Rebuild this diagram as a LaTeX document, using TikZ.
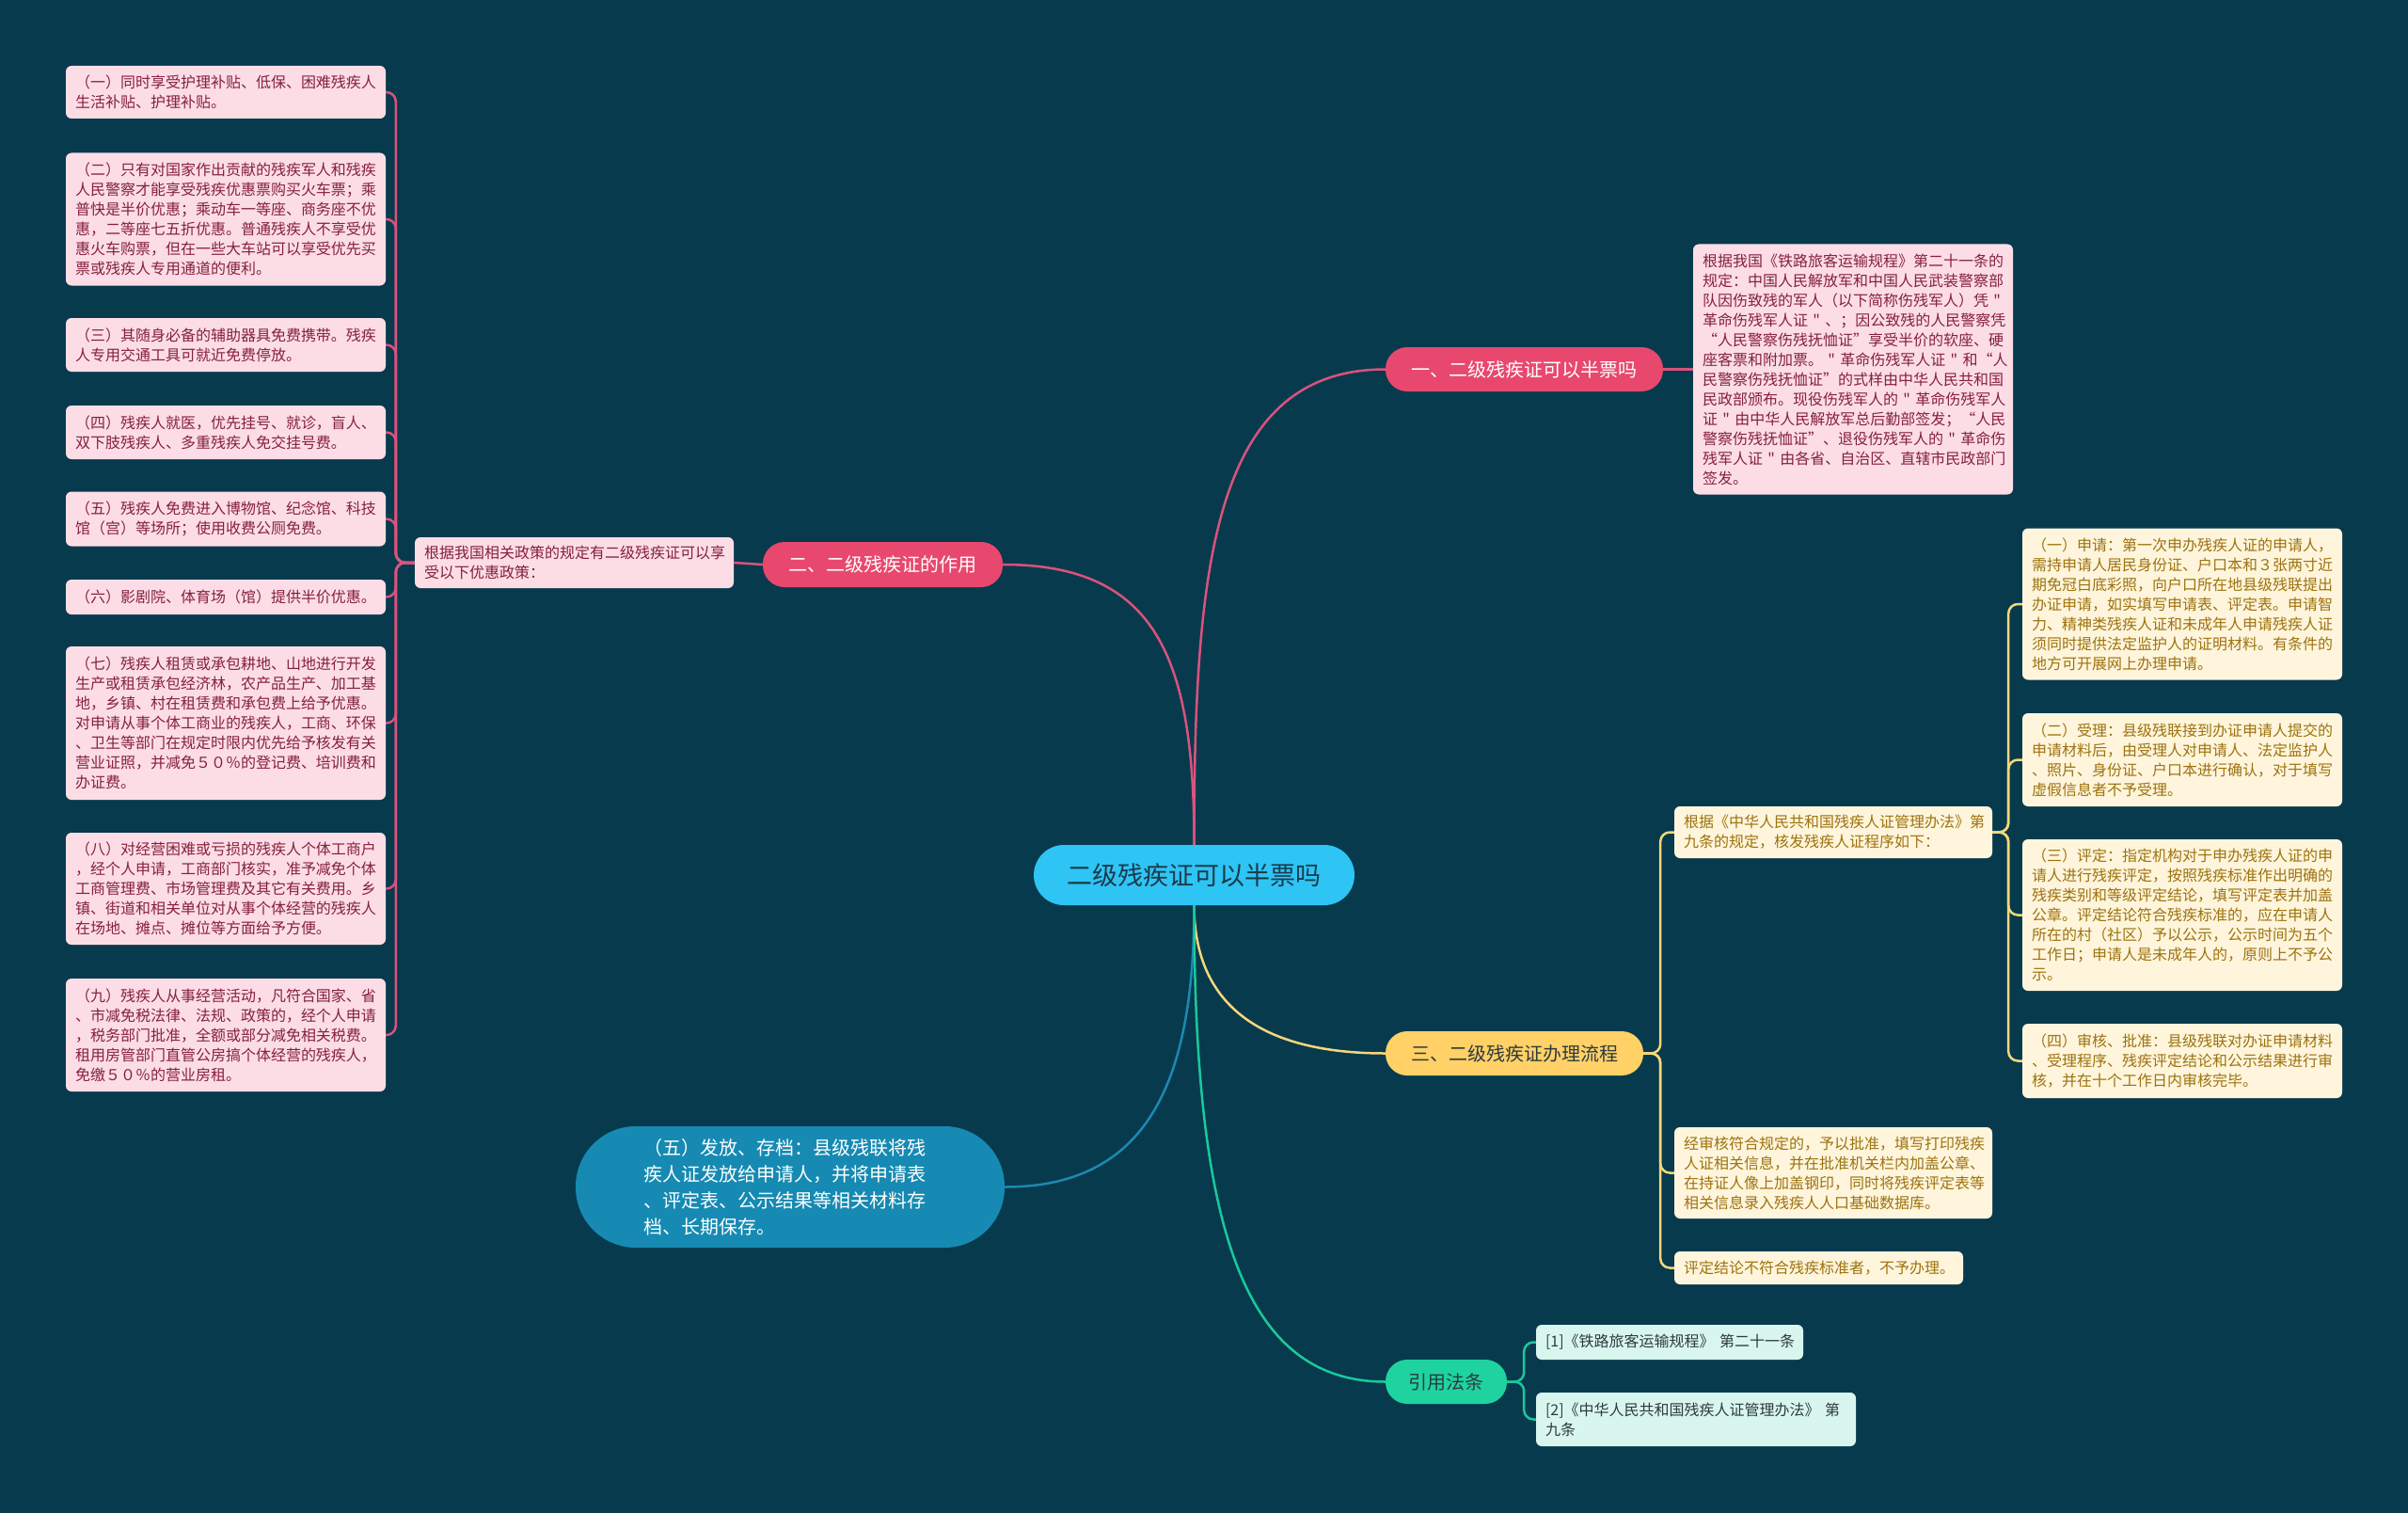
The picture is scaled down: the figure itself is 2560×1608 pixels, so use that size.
\documentclass[tikz,border=0pt]{standalone}
\usepackage{fontspec}
\newfontfamily\cjk{Noto Sans CJK SC}
\definecolor{bgc}{HTML}{083A4E}
\definecolor{pinkmain}{HTML}{E8486E}
\definecolor{pinkline}{HTML}{D9537C}
\definecolor{pinkfill}{HTML}{FCDDE5}
\definecolor{pinktext}{HTML}{86203F}
\definecolor{yelmain}{HTML}{FFD166}
\definecolor{yelline}{HTML}{F5D77A}
\definecolor{yelfill}{HTML}{FEF5DC}
\definecolor{yeltext}{HTML}{9E720E}
\definecolor{bluemain}{HTML}{168AB2}
\definecolor{blueline}{HTML}{1E88B0}
\definecolor{greenmain}{HTML}{1ED39F}
\definecolor{greenline}{HTML}{19C99A}
\definecolor{greenfill}{HTML}{D8F6EE}
\definecolor{darktext}{HTML}{2E3A3F}
\definecolor{centerfill}{HTML}{2EC4F4}
\definecolor{centertext}{HTML}{1B3A4B}
\begin{document}
\begin{tikzpicture}[x=1pt,y=-1pt,
  leafbase/.style={anchor=center, inner xsep=10pt, inner ysep=0pt, rounded corners=6pt, align=left, font=\cjk\fontsize{16}{21}\selectfont},
  pinkleaf/.style={leafbase, fill=pinkfill, text=pinktext},
  yelleaf/.style={leafbase, fill=yelfill, text=yeltext},
  greenleaf/.style={leafbase, fill=greenfill, text=darktext},
  branchbox/.style={anchor=center, inner sep=0pt, rounded corners=23pt, font=\cjk\fontsize{20}{24}\selectfont},
  link/.style={line width=2.5pt},
  bracket/.style={line width=2.5pt, rounded corners=10pt}
]
\fill[bgc] (0,0) rectangle (2560,1608);
\useasboundingbox (0,0) rectangle (2560,1608);

% center
\node[anchor=center, fill=centerfill, text=centertext, rounded corners=32pt, minimum width=341pt, minimum height=64pt, inner sep=0pt, font=\cjk\fontsize{27}{32}\selectfont] (c) at (1269.5,930) {二级残疾证可以半票吗};

% branches
\node[branchbox, fill=pinkmain, text=white, minimum width=295pt, minimum height=47pt] (b1) at (1620.5,392.5) {一、二级残疾证可以半票吗};
\node[branchbox, fill=pinkmain, text=white, minimum width=255pt, minimum height=48pt] (b2) at (938.5,600) {二、二级残疾证的作用};
\node[branchbox, fill=yelmain, text=darktext, minimum width=274pt, minimum height=47pt] (b3) at (1610,1119.5) {三、二级残疾证办理流程};
\node[anchor=center, fill=bluemain, text=white, rounded corners=64pt, minimum width=456pt, minimum height=129pt, inner sep=0pt, text width=312pt, align=left, font=\cjk\fontsize{20}{28}\selectfont] (b4) at (840,1261.5) {（五）发放、存档：县级残联将残\\疾人证发放给申请人，并将申请表\\、评定表、公示结果等相关材料存\\档、长期保存。};
\node[branchbox, fill=greenmain, text=darktext, minimum width=129pt, minimum height=47pt] (b5) at (1537.5,1468.5) {引用法条};

% branch 1 leaf
\node[pinkleaf, text width=320pt, minimum height=266pt] (t1) at (1970,392.5) {根据我国《铁路旅客运输规程》第二十一条的\\规定：中国人民解放军和中国人民武装警察部\\队因伤致残的军人（以下简称伤残军人）凭~"\\革命伤残军人证~"~、；因公致残的人民警察凭\\“人民警察伤残抚恤证”享受半价的软座、硬\\座客票和附加票。~"~革命伤残军人证~"~和“人\\民警察伤残抚恤证”的式样由中华人民共和国\\民政部颁布。现役伤残军人的~"~革命伤残军人\\证~"~由中华人民解放军总后勤部签发；“人民\\警察伤残抚恤证”、退役伤残军人的~"~革命伤\\残军人证~"~由各省、自治区、直辖市民政部门\\签发。};

% branch 2 leaf
\node[pinkleaf, text width=319pt, minimum height=54pt] (lb) at (610.5,598) {根据我国相关政策的规定有二级残疾证可以享\\受以下优惠政策：};

% left column
\node[pinkleaf, text width=320pt, minimum height=56pt] (l1) at (240,98) {（一）同时享受护理补贴、低保、困难残疾人\\生活补贴、护理补贴。};
\node[pinkleaf, text width=320pt, minimum height=141pt] (l2) at (240,233) {（二）只有对国家作出贡献的残疾军人和残疾\\人民警察才能享受残疾优惠票购买火车票；乘\\普快是半价优惠；乘动车一等座、商务座不优\\惠，二等座七五折优惠。普通残疾人不享受优\\惠火车购票，但在一些大车站可以享受优先买\\票或残疾人专用通道的便利。};
\node[pinkleaf, text width=320pt, minimum height=57pt] (l3) at (240,366.5) {（三）其随身必备的辅助器具免费携带。残疾\\人专用交通工具可就近免费停放。};
\node[pinkleaf, text width=320pt, minimum height=57pt] (l4) at (240,459.5) {（四）残疾人就医，优先挂号、就诊，盲人、\\双下肢残疾人、多重残疾人免交挂号费。};
\node[pinkleaf, text width=320pt, minimum height=58pt] (l5) at (240,551.5) {（五）残疾人免费进入博物馆、纪念馆、科技\\馆（宫）等场所；使用收费公厕免费。};
\node[pinkleaf, text width=320pt, minimum height=37pt] (l6) at (240,634.5) {（六）影剧院、体育场（馆）提供半价优惠。};
\node[pinkleaf, text width=320pt, minimum height=163pt] (l7) at (240,768.5) {（七）残疾人租赁或承包耕地、山地进行开发\\生产或租赁承包经济林，农产品生产、加工基\\地，乡镇、村在租赁费和承包费上给予优惠。\\对申请从事个体工商业的残疾人，工商、环保\\、卫生等部门在规定时限内优先给予核发有关\\营业证照，并减免５０％的登记费、培训费和\\办证费。};
\node[pinkleaf, text width=320pt, minimum height=119pt] (l8) at (240,944.5) {（八）对经营困难或亏损的残疾人个体工商户\\，经个人申请，工商部门核实，准予减免个体\\工商管理费、市场管理费及其它有关费用。乡\\镇、街道和相关单位对从事个体经营的残疾人\\在场地、摊点、摊位等方面给予方便。};
\node[pinkleaf, text width=320pt, minimum height=120pt] (l9) at (240,1100) {（九）残疾人从事经营活动，凡符合国家、省\\、市减免税法律、法规、政策的，经个人申请\\，税务部门批准，全额或部分减免相关税费。\\租用房管部门直管公房搞个体经营的残疾人，\\免缴５０％的营业房租。};

% branch 3 leaves
\node[yelleaf, text width=318pt, minimum height=55pt] (ya) at (1949,884.5) {根据《中华人民共和国残疾人证管理办法》第\\九条的规定，核发残疾人证程序如下：};
\node[yelleaf, text width=318pt, minimum height=97pt] (yb) at (1949,1246.5) {经审核符合规定的，予以批准，填写打印残疾\\人证相关信息，并在批准机关栏内加盖公章、\\在持证人像上加盖钢印，同时将残疾评定表等\\相关信息录入残疾人人口基础数据库。};
\node[yelleaf, text width=287pt, minimum height=35pt] (yc) at (1933.5,1347.5) {评定结论不符合残疾标准者，不予办理。};

% steps
\node[yelleaf, text width=320pt, minimum height=161pt] (s1) at (2320,642) {（一）申请：第一次申办残疾人证的申请人，\\需持申请人居民身份证、户口本和３张两寸近\\期免冠白底彩照，向户口所在地县级残联提出\\办证申请，如实填写申请表、评定表。申请智\\力、精神类残疾人证和未成年人申请残疾人证\\须同时提供法定监护人的证明材料。有条件的\\地方可开展网上办理申请。};
\node[yelleaf, text width=320pt, minimum height=99pt] (s2) at (2320,807.5) {（二）受理：县级残联接到办证申请人提交的\\申请材料后，由受理人对申请人、法定监护人\\、照片、身份证、户口本进行确认，对于填写\\虚假信息者不予受理。};
\node[yelleaf, text width=320pt, minimum height=161pt] (s3) at (2320,972.5) {（三）评定：指定机构对于申办残疾人证的申\\请人进行残疾评定，按照残疾标准作出明确的\\残疾类别和等级评定结论，填写评定表并加盖\\公章。评定结论符合残疾标准的，应在申请人\\所在的村（社区）予以公示，公示时间为五个\\工作日；申请人是未成年人的，原则上不予公\\示。};
\node[yelleaf, text width=320pt, minimum height=79pt] (s4) at (2320,1127.5) {（四）审核、批准：县级残联对办证申请材料\\、受理程序、残疾评定结论和公示结果进行审\\核，并在十个工作日内审核完毕。};

% references
\node[greenleaf, text width=264pt, minimum height=37pt] (r1) at (1775,1426.5) {[1]《铁路旅客运输规程》~第二十一条};
\node[greenleaf, text width=320pt, minimum height=57pt] (r2) at (1803,1508.5) {[2]《中华人民共和国残疾人证管理办法》~第\\九条};

% main connectors
\draw[link, pinkline] (c.north) .. controls (1269.5,600) and (1290,392.5) .. (b1.west);
\draw[link, pinkline] (c.north) .. controls (1269.5,700) and (1230,600) .. (b2.east);
\draw[link, yelline] (c.south) .. controls (1269.5,1060) and (1330,1119.5) .. (b3.west);
\draw[link, blueline] (c.south) .. controls (1269.5,1150) and (1220,1261.5) .. (b4.east);
\draw[link, greenline] (c.south) .. controls (1269.5,1300) and (1320,1468.5) .. (b5.west);

% leaf connectors
\draw[link, pinkline] (b1.east) -- (t1.west);
\draw[link, pinkline] (b2.west) -- (lb.east);
\foreach \n in {l1,l2,l3,l4,l5,l6,l7,l8,l9}
  \draw[bracket, pinkline] (lb.west) -- ++(-20,0) |- (\n.east);
\foreach \n in {ya,yb,yc}
  \draw[bracket, yelline] (b3.east) -- ++(18,0) |- (\n.west);
\foreach \n in {s1,s2,s3,s4}
  \draw[bracket, yelline] (ya.east) -- ++(17,0) |- (\n.west);
\foreach \n in {r1,r2}
  \draw[bracket, greenline] (b5.east) -- ++(18,0) |- (\n.west);
\end{tikzpicture}
\end{document}
